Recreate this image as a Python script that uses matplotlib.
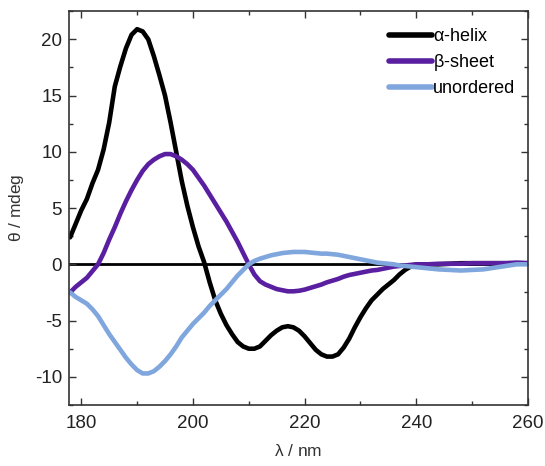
import matplotlib
matplotlib.use("Agg")
import matplotlib.pyplot as plt
from matplotlib.ticker import MultipleLocator

# Wavelength grid (nm) and CD spectra (mdeg) for reference secondary structures
wavelength = [178, 179, 180, 181, 182, 183, 184, 185, 186, 187, 188, 189, 190, 191,
              192, 193, 194, 195, 196, 197, 198, 199, 200, 201, 202, 203, 204, 205,
              206, 207, 208, 209, 210, 211, 212, 213, 214, 215, 216, 217, 218, 219,
              220, 221, 222, 223, 224, 225, 226, 227, 228, 229, 230, 231, 232, 233,
              234, 235, 236, 237, 238, 239, 240, 242, 244, 246, 248, 250, 252, 254,
              256, 258, 260]

alpha_helix = [2.4, 3.6, 4.8, 5.8, 7.2, 8.4, 10.2, 12.6, 15.8, 17.6, 19.2, 20.4, 20.9, 20.7,
               20.0, 18.5, 16.8, 15.0, 12.6, 10.0, 7.4, 5.2, 3.3, 1.6, 0.2, -1.6, -3.2, -4.4,
               -5.4, -6.2, -6.9, -7.3, -7.5, -7.5, -7.3, -6.8, -6.3, -5.9, -5.6, -5.5, -5.6, -5.9,
               -6.4, -7.0, -7.6, -8.0, -8.2, -8.2, -8.0, -7.4, -6.6, -5.6, -4.7, -3.9, -3.2, -2.7,
               -2.2, -1.8, -1.4, -0.9, -0.5, -0.2, 0.0, 0.0, 0.0, 0.05, 0.1, 0.1, 0.1, 0.1,
               0.1, 0.1, 0.1]

beta_sheet = [-2.5, -2.0, -1.6, -1.2, -0.6, 0.0, 1.0, 2.2, 3.3, 4.5, 5.6, 6.6, 7.5, 8.3,
              8.9, 9.3, 9.6, 9.8, 9.8, 9.6, 9.3, 8.9, 8.4, 7.7, 7.0, 6.2, 5.4, 4.6,
              3.8, 2.9, 2.0, 1.0, 0.0, -0.9, -1.5, -1.8, -2.0, -2.2, -2.3, -2.4, -2.4, -2.35,
              -2.25, -2.1, -1.95, -1.8, -1.6, -1.45, -1.3, -1.1, -0.95, -0.85, -0.75, -0.65, -0.55, -0.5,
              -0.4, -0.3, -0.2, -0.15, -0.1, -0.05, 0.0, 0.0, 0.05, 0.05, 0.05, 0.1, 0.1, 0.1,
              0.1, 0.15, 0.1]

unordered = [-2.5, -2.9, -3.2, -3.5, -4.0, -4.6, -5.4, -6.2, -6.9, -7.6, -8.3, -8.9, -9.4, -9.7,
             -9.7, -9.5, -9.1, -8.6, -8.0, -7.3, -6.5, -5.9, -5.3, -4.8, -4.3, -3.7, -3.2, -2.7,
             -2.2, -1.6, -1.0, -0.5, 0.0, 0.3, 0.5, 0.65, 0.8, 0.9, 1.0, 1.05, 1.1, 1.1,
             1.1, 1.05, 1.0, 0.95, 0.95, 0.9, 0.85, 0.75, 0.65, 0.55, 0.45, 0.35, 0.25, 0.15,
             0.1, 0.05, 0.0, -0.1, -0.15, -0.2, -0.25, -0.35, -0.45, -0.5, -0.55, -0.5, -0.45, -0.3,
             -0.15, 0.0, 0.0]

series_labels = [r"$\alpha$-helix", r"$\beta$-sheet", "unordered"]
series_colors = ["#000000", "#5a1fa0", "#80a6de"]

x_ticks = [180, 200, 220, 240, 260]
y_ticks = [-10, -5, 0, 5, 10, 15, 20]

plt.rcParams["font.family"] = ["Liberation Sans", "DejaVu Sans"]
plt.rcParams["mathtext.fontset"] = "custom"
plt.rcParams["mathtext.rm"] = "Liberation Sans"
plt.rcParams["mathtext.it"] = "Liberation Sans"
plt.rcParams["axes.unicode_minus"] = False

fig = plt.figure(figsize=(5.45, 4.66), dpi=100)
ax = fig.add_axes([0.1266, 0.131, 0.842, 0.845])

ax.axhline(0, color="black", lw=2.0, zorder=1)
for vals, lab, col in zip([alpha_helix, beta_sheet, unordered], series_labels, series_colors):
    ax.plot(wavelength, vals, color=col, lw=3.3, label=lab,
            solid_capstyle="round", solid_joinstyle="round", zorder=2)

ax.set_xlim(177.8, 260)
ax.set_ylim(-12.5, 22.5)
ax.set_xticks(x_ticks)
ax.set_yticks(y_ticks)
ax.xaxis.set_minor_locator(MultipleLocator(10))
ax.yaxis.set_minor_locator(MultipleLocator(2.5))
ax.tick_params(which="both", direction="in", top=True, right=True, width=1.0, color="#333333")
ax.tick_params(which="major", length=5, labelsize=13.5, labelcolor="#222222")
ax.tick_params(axis="x", which="major", pad=7)
ax.tick_params(axis="y", which="major", pad=5)
ax.tick_params(which="minor", length=3)
for s in ax.spines.values():
    s.set_linewidth(1.2)
    s.set_color("#333333")

ax.set_xlabel(r"$\lambda$ / nm", fontsize=12.5, color="#333333", labelpad=8)
ax.set_ylabel(r"$\theta$ / mdeg", fontsize=12.5, color="#333333", labelpad=6)

leg = ax.legend(loc="upper right", bbox_to_anchor=(0.995, 0.985), frameon=False,
                fontsize=13, handlelength=2.35, handletextpad=0.05, labelspacing=0.4,
                borderaxespad=0.2)
for line in leg.get_lines():
    line.set_linewidth(4.0)

fig.savefig("out.png", dpi=100)
